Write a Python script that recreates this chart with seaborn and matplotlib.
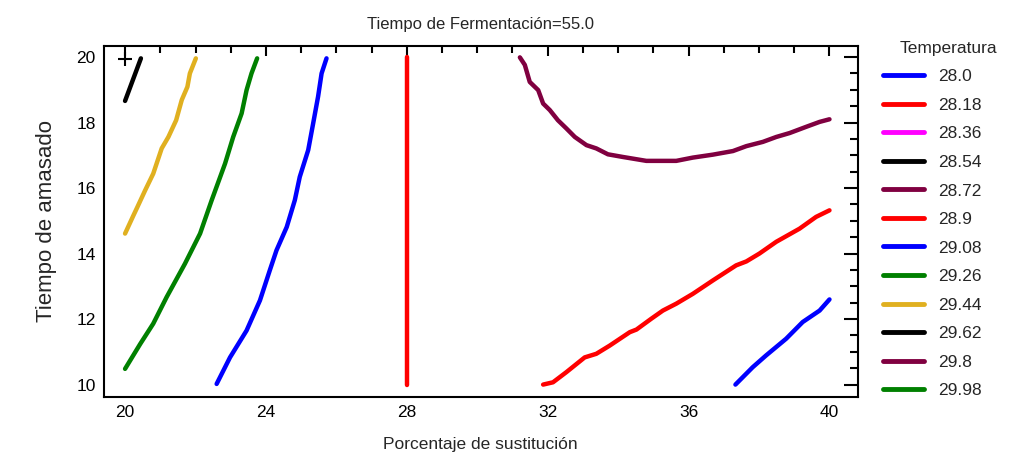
import matplotlib
matplotlib.use("Agg")
import matplotlib.pyplot as plt
from matplotlib.lines import Line2D
from matplotlib.ticker import MultipleLocator
import seaborn as sns
import pandas as pd

# contour levels shown in the legend
niveles = ["28.0", "28.18", "28.36", "28.54", "28.72", "28.9",
           "29.08", "29.26", "29.44", "29.62", "29.8", "29.98"]
colores = ["#0000ff", "#ff0000", "#ff00ff", "#000000", "#800040", "#ff0000",
           "#0000ff", "#008000", "#e0b020", "#000000", "#800040", "#008000"]

# contour lines (x = sustitucion, y = amasado)
c2962_x = [20.0, 20.45]
c2962_y = [18.66, 19.96]

c2944_x = [20.0, 20.24, 20.35, 20.57, 20.80, 21.04, 21.23, 21.45, 21.61, 21.77, 21.84, 22.01]
c2944_y = [14.61, 15.17, 15.42, 15.93, 16.44, 17.21, 17.56, 18.07, 18.69, 19.09, 19.50, 19.96]

c2926_x = [20.0, 20.43, 20.80, 21.18, 21.70, 22.13, 22.46, 22.84, 23.07, 23.31, 23.45, 23.59, 23.75]
c2926_y = [10.48, 11.24, 11.86, 12.67, 13.69, 14.61, 15.63, 16.75, 17.56, 18.28, 18.99, 19.50, 19.96]

c2908_x = [22.60, 22.98, 23.45, 23.83, 24.11, 24.30, 24.59, 24.82, 24.96, 25.20, 25.34, 25.48, 25.58, 25.72]
c2908_y = [10.02, 10.83, 11.65, 12.57, 13.49, 14.10, 14.81, 15.63, 16.34, 17.16, 17.97, 18.79, 19.50, 19.96]

c2890v_x = [28.0, 28.0]
c2890v_y = [10.0, 20.0]

c2872_x = [31.21, 31.35, 31.49, 31.73, 31.87, 32.06, 32.29, 32.53, 32.77, 33.10, 33.38, 33.71,
           34.13, 34.80, 35.65, 36.12, 36.69, 37.26, 37.64, 38.11, 38.49, 38.87, 39.34, 39.72, 40.0]
c2872_y = [19.99, 19.76, 19.24, 18.99, 18.58, 18.38, 18.07, 17.82, 17.56, 17.31, 17.21, 17.03,
           16.95, 16.83, 16.83, 16.93, 17.02, 17.13, 17.28, 17.41, 17.56, 17.68, 17.87, 18.02, 18.10]

c2890_x = [31.87, 32.15, 32.53, 33.05, 33.38, 33.76, 34.33, 34.52, 34.94, 35.27, 35.65, 36.12,
           36.69, 37.35, 37.64, 38.01, 38.49, 39.15, 39.62, 40.0]
c2890_y = [10.0, 10.07, 10.38, 10.83, 10.94, 11.19, 11.60, 11.68, 12.01, 12.26, 12.47, 12.77,
           13.18, 13.64, 13.76, 14.00, 14.36, 14.76, 15.12, 15.32]

c2908b_x = [37.33, 37.82, 38.20, 38.77, 39.24, 39.72, 40.0]
c2908b_y = [10.0, 10.53, 10.89, 11.40, 11.91, 12.26, 12.60]

optimo_x = [20.0]
optimo_y = [19.93]

lineas = [
    (c2962_x, c2962_y, "#000000"),
    (c2944_x, c2944_y, "#e0b020"),
    (c2926_x, c2926_y, "#008000"),
    (c2908_x, c2908_y, "#0000ff"),
    (c2890v_x, c2890v_y, "#ff0000"),
    (c2872_x, c2872_y, "#800040"),
    (c2890_x, c2890_y, "#ff0000"),
    (c2908b_x, c2908b_y, "#0000ff"),
]

sns.set_style("white")
plt.rcParams['font.family'] = ['Liberation Sans', 'DejaVu Sans']

fig = plt.figure(figsize=(10.09, 4.59), dpi=100)
ax = fig.add_axes([0.103, 0.135, 0.747, 0.765])

for xs, ys, col in lineas:
    df = pd.DataFrame({"x": xs, "y": ys})
    sns.lineplot(data=df, x="x", y="y", sort=False, estimator=None, color=col,
                 linewidth=3.2, ax=ax)

ax.plot(optimo_x, optimo_y, marker="+", color="black", ms=10, mew=1.5, linestyle="none")

ax.set_xlim(19.4, 40.8)
ax.set_ylim(9.62, 20.34)
ax.xaxis.set_major_locator(MultipleLocator(4))
ax.xaxis.set_minor_locator(MultipleLocator(1))
ax.yaxis.set_major_locator(MultipleLocator(2))
ax.yaxis.set_minor_locator(MultipleLocator(0.5))
ax.tick_params(which="both", direction="in", top=True, right=True, width=1.5,
               labelsize=12.5, colors="black")
ax.tick_params(axis="x", which="major", length=7, pad=6)
ax.tick_params(axis="x", which="minor", length=5)
ax.tick_params(axis="y", which="major", length=10, pad=6)
ax.tick_params(axis="y", which="minor", length=5.5)
for s in ax.spines.values():
    s.set_linewidth(1.5)
    s.set_color("black")

ax.set_title("Tiempo de Fermentación=55.0", fontsize=12, pad=12)
ax.set_xlabel("Porcentaje de sustitución", fontsize=12.5, labelpad=12)
ax.set_ylabel("Tiempo de amasado", fontsize=16, labelpad=14)

handles = [Line2D([0], [0], color=c, linewidth=3.5) for c in colores]
fig.legend(handles, niveles, loc="upper left", bbox_to_anchor=(0.867, 0.868),
           frameon=False, fontsize=12.5, borderpad=0, handlelength=2.35,
           handletextpad=0.8, labelspacing=0.77)
fig.text(0.94, 0.895, "Temperatura", ha="center", va="center", fontsize=12.5)

fig.savefig("out.png", dpi=100)
